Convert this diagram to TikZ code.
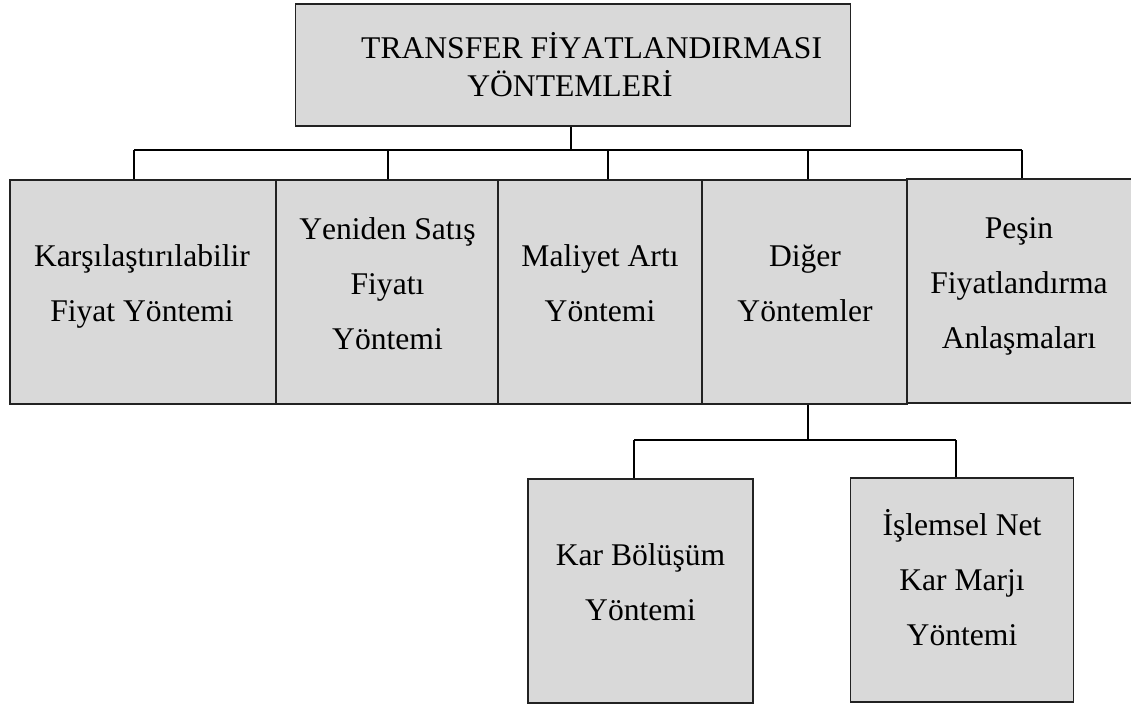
\documentclass[tikz,border=0pt]{standalone}
\usepackage{fontspec}
\setmainfont[Kerning=Off]{Liberation Serif}
\definecolor{boxgray}{HTML}{D9D9D9}
\definecolor{boxline}{HTML}{222222}
\begin{document}
\begin{tikzpicture}[x=1pt,y=-1pt,
  box/.style={draw=boxline, line width=1.3pt, fill=boxgray, inner sep=0pt},
  lbl/.style={anchor=base, inner sep=0pt, font=\fontsize{31.6}{55}\selectfont},
  link/.style={draw=black, line width=1.8pt}]
\useasboundingbox (0,0) rectangle (1131,706);
\fill[white] (0,0) rectangle (1131,706);

% boxes: root, first level, second level
\node[box, minimum width=555pt, minimum height=122pt] (top) at (572.75,65) {};
\node[box, minimum width=266pt, minimum height=224pt] (k1) at (143,292) {};
\node[box, minimum width=222pt, minimum height=224pt] (k2) at (387,292) {};
\node[box, minimum width=204pt, minimum height=224pt] (k3) at (600,292) {};
\node[box, minimum width=205pt, minimum height=224pt] (k4) at (804.5,292) {};
\node[box, minimum width=230pt, minimum height=224pt] (k5) at (1022,291) {};
\node[box, minimum width=225pt, minimum height=224pt] (s1) at (640.5,591) {};
\node[box, minimum width=223.5pt, minimum height=224pt] (s2) at (962,590) {};

% labels (anchored at the baseline of their first line)
\node[lbl, anchor=base west] (top-a) at (361,58.3) {TRANSFER FİYATLANDIRMASI};
\node[lbl] (top-b) at (570,96) {YÖNTEMLERİ};
\newcommand{\lines}[1]{\begin{tabular}[t]{@{}c@{}}#1\end{tabular}}
\node[lbl] (k1-t) at (142,266.7) {\lines{Karşılaştırılabilir\\Fiyat Yöntemi}};
\node[lbl] (k2-t) at (387.5,239.3) {\lines{Yeniden Satış\\Fiyatı\\Yöntemi}};
\node[lbl] (k3-t) at (600,266.7) {\lines{Maliyet Artı\\Yöntemi}};
\node[lbl] (k4-t) at (805,266.7) {\lines{Diğer\\Yöntemler}};
\node[lbl] (k5-t) at (1019,238.5) {\lines{Peşin\\Fiyatlandırma\\Anlaşmaları}};
\node[lbl] (s1-t) at (640.5,565) {\lines{Kar Bölüşüm\\Yöntemi}};
\node[lbl] (s2-t) at (962,535) {\lines{İşlemsel Net\\Kar Marjı\\Yöntemi}};

% bus to first level
\coordinate (b0) at (571,150);
\coordinate (b1) at (134,150);
\coordinate (b2) at (388,150);
\coordinate (b3) at (608,150);
\coordinate (b4) at (808,150);
\coordinate (b5) at (1022,150);
\draw[link] (b0 |- top.south) -- (b0);
\draw[link] (b1) -- (b5);
\foreach \i in {1,...,5} {
  \draw[link] (b\i) -- (b\i |- k\i.north);
}

% bus to second level
\coordinate (d0) at (808,440);
\coordinate (d1) at (634,440);
\coordinate (d2) at (956,440);
\draw[link] (d0 |- k4.south) -- (d0);
\draw[link] (d1) -- (d2);
\draw[link] (d1) -- (d1 |- s1.north);
\draw[link] (d2) -- (d2 |- s2.north);
\end{tikzpicture}
\end{document}
